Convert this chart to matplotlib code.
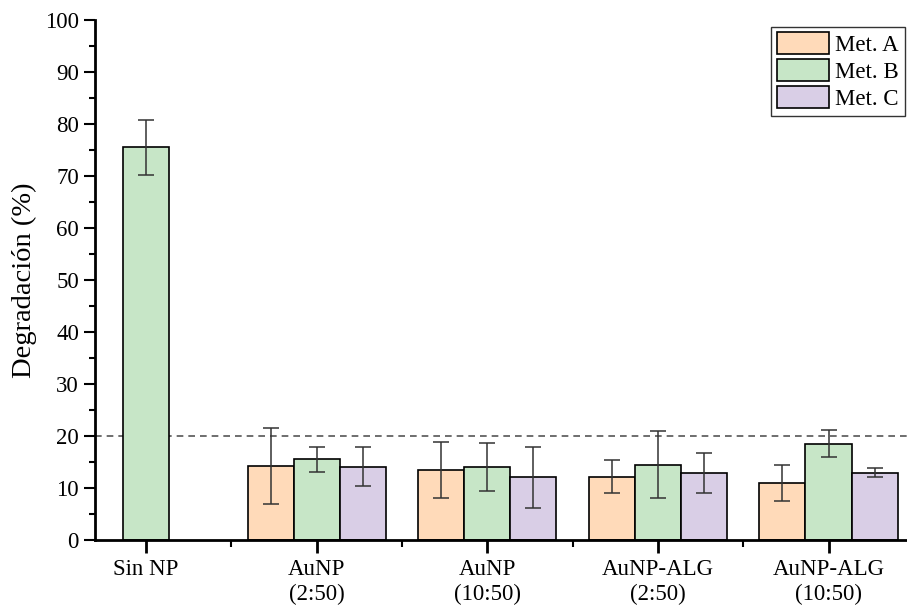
import matplotlib.pyplot as plt
import numpy as np
from matplotlib.ticker import MultipleLocator

plt.rcParams['font.family'] = ['Liberation Serif', 'DejaVu Serif']

categories = ['Sin NP', 'AuNP\n(2:50)', 'AuNP\n(10:50)', 'AuNP-ALG\n(2:50)', 'AuNP-ALG\n(10:50)']
series = ['Met. A', 'Met. B', 'Met. C']

met_a = [np.nan, 14.3, 13.5, 12.2, 11.0]
met_b = [75.5, 15.5, 14.1, 14.5, 18.5]
met_c = [np.nan, 14.1, 12.1, 12.9, 12.95]

err_a = [np.nan, 7.3, 5.4, 3.25, 3.5]
err_b = [5.3, 2.45, 4.6, 6.4, 2.6]
err_c = [np.nan, 3.8, 5.85, 3.8, 0.9]

threshold = 20

colors = ['#FFDAB9', '#C7E6C7', '#D9CEE6']

fig = plt.figure(figsize=(9.07, 6.08), dpi=100)
ax = fig.add_axes([0.1047, 0.1118, 0.8953, 0.8553])

x = np.arange(len(categories))
barWidth = 0.27
offsets = [-barWidth, 0, barWidth]
values = [met_a, met_b, met_c]
errors = [err_a, err_b, err_c]

for vals, errs, off, col, lab in zip(values, errors, offsets, colors, series):
    ax.bar(x + off, vals, width=barWidth, color=col, edgecolor='black',
           linewidth=1.2, label=lab, zorder=2)
    ax.errorbar(x + off, vals, yerr=errs, fmt='none', ecolor='#333333',
                elinewidth=1.1, capsize=6, capthick=1.1, zorder=3)

ax.axhline(threshold, color='#555555', linestyle=(0, (4, 3)), linewidth=1.2, zorder=1)

ax.set_xlim(-0.30, 4.46)
ax.set_ylim(0, 100)
ax.set_xticks(x)
ax.set_xticklabels(categories, fontsize=16.5)
ax.xaxis.set_minor_locator(MultipleLocator(0.5))
ax.yaxis.set_major_locator(MultipleLocator(10))
ax.yaxis.set_minor_locator(MultipleLocator(5))
ax.tick_params(axis='y', which='major', direction='out', length=8, width=1.5, labelsize=16.5)
ax.tick_params(axis='y', which='minor', direction='out', length=4, width=1.5)
ax.tick_params(axis='x', which='major', direction='out', length=9, width=2, pad=5)
ax.tick_params(axis='x', which='minor', direction='out', length=5, width=1.5)

for side in ['top', 'right']:
    ax.spines[side].set_visible(False)
for side in ['left', 'bottom']:
    ax.spines[side].set_linewidth(2)

ax.set_ylabel('Degradación (%)', fontsize=20.5, labelpad=6)

leg = ax.legend(loc='upper right', bbox_to_anchor=(0.997, 0.987), fontsize=16.5,
                fancybox=False, edgecolor='#333333', framealpha=1,
                handlelength=2.3, handleheight=1.1, handletextpad=0.25,
                labelspacing=0.13, borderpad=0.25, borderaxespad=0)
leg.get_frame().set_linewidth(1)

fig.savefig('out.png', dpi=100)
